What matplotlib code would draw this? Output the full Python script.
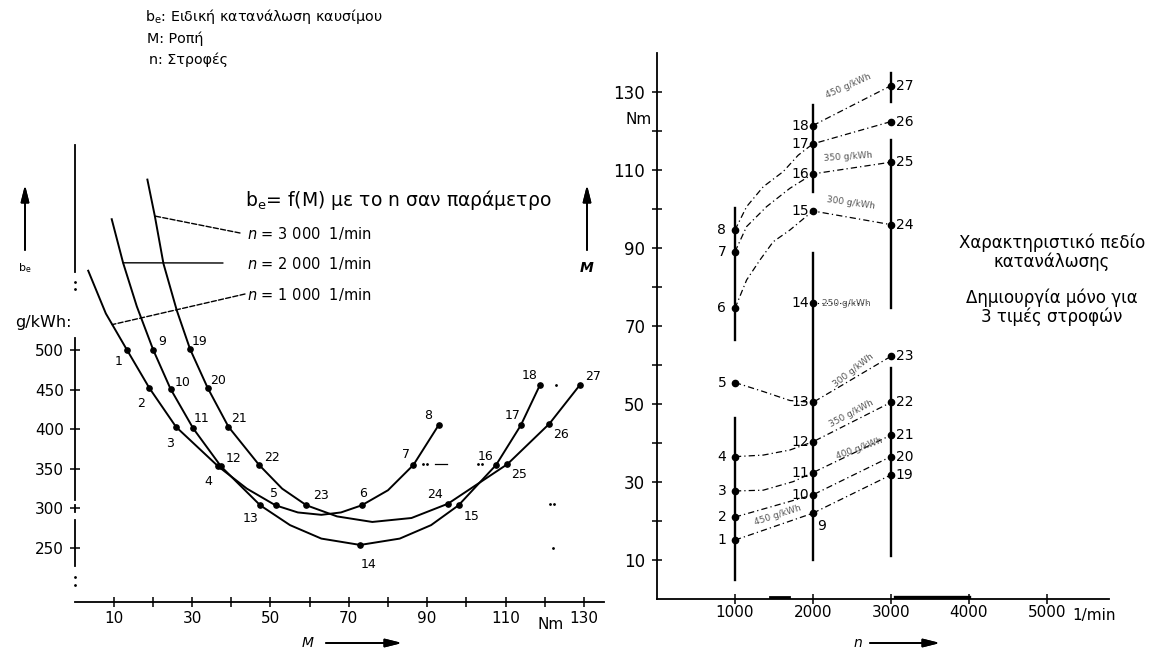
import matplotlib
matplotlib.use("Agg")
import matplotlib.pyplot as plt

W, H = 1175, 656
NARROW = ["Liberation Sans Narrow", "DejaVu Sans"]
plt.rcParams["font.family"] = ["DejaVu Sans"]

# ---- left chart: b_e over M, one curve per speed ----
m_1000 = [3.5, 8.0, 13.4, 19.1, 25.9, 36.7, 44.0, 51.3, 57.0, 63.0, 68.0, 73.3, 80.0, 86.5, 92.9]
b_1000 = [600, 546, 500, 452, 403, 353, 325, 304, 295, 292, 295, 304, 323, 355, 405]
m_2000 = [9.5, 12.4, 15.9, 20.1, 24.5, 30.3, 37.4, 47.4, 55.0, 63.0, 72.9, 83.0, 91.0, 98.0, 107.6, 113.9, 118.8]
b_2000 = [665, 610, 555, 500, 451, 401, 353, 304, 279, 262, 254, 262, 279, 304, 355, 405, 456]
m_3000 = [18.6, 20.5, 22.7, 26.1, 29.5, 34.0, 39.3, 47.1, 53.0, 59.2, 67.0, 76.0, 86.0, 95.3, 110.5, 121.2, 129.0]
b_3000 = [715, 669, 609, 550, 501, 452, 403, 355, 325, 304, 290, 283, 288, 306, 356, 407, 456]

# measuring points 1..27 as drawn on the left chart
pt_no = list(range(1, 28))
pt_m = [13.4, 19.1, 25.9, 36.7, 51.3, 73.3, 86.5, 92.9,
        20.1, 24.5, 30.3, 37.4, 47.4, 72.9, 98.0, 107.6, 113.9, 118.8,
        29.5, 34.0, 39.3, 47.1, 59.2, 95.3, 110.5, 121.2, 129.0]
pt_b = [500, 452, 403, 353, 304, 304, 355, 405,
        500, 451, 401, 353, 304, 254, 304, 355, 405, 456,
        501, 452, 403, 355, 304, 306, 356, 407, 456]
# label offsets (pixels, right / down) of the point numbers
pt_off = [(-8, 12), (-8, 15), (-6, 17), (-10, 15), (-2, -12), (1, -12), (-7, -10), (-10, -10),
          (9, -8), (12, -6), (8, -10), (12, -8), (-10, 13), (8, 20), (13, 11), (-11, -8), (-8, -10), (-10, -9),
          (9, -8), (10, -8), (11, -8), (13, -7), (15, -10), (-13, -9), (12, 10), (12, 11), (13, -8)]

leg_text = ["$n$ = 3 000  1/min", "$n$ = 2 000  1/min", "$n$ = 1 000  1/min"]
leg_m = [20.5, 12.4, 9.6]
leg_b = [669, 610, 532]

# ---- right chart: consumption map, M over n ----
speeds = [1000, 2000, 3000]
rm_1000 = [15.1, 21.0, 27.7, 36.5, 55.5, 74.5, 89.0, 94.6]                   # points 1-8
rm_2000 = [22.0, 26.7, 32.4, 40.3, 50.4, 75.8, 99.5, 109.0, 116.7, 121.4]    # points 9-18
rm_3000 = [31.8, 36.5, 42.0, 50.4, 62.2, 96.0, 112.0, 122.4, 131.6]          # points 19-27

iso_b = [500, 450, 400, 350, 300, 300, 350, 400, 450]
iso_pts = [[1, 9, 19], [2, 10, 20], [3, 11, 21], [4, 12, 22], [5, 13, 23],
           [6, 15, 24], [7, 16, 25], [8, 17, 26], [18, 27]]
# extra readings on the bent stretch between 1000 and 2000 1/min
bend_n = {3: [1363, 1748], 4: [1363, 1705], 5: [1363, 1705],
          6: [1150, 1320, 1491, 1705], 7: [1150, 1406, 1705], 8: [1150, 1363, 1620, 1812]}
bend_m = {3: [27.9, 30.1], 4: [36.9, 38.2], 5: [53.2, 50.9],
          6: [81.8, 86.9, 91.6, 94.6], 7: [95.5, 100.6, 105.3], 8: [100.6, 105.7, 109.6, 113.8]}

iso_lbl = ["450 g/kWh", "350 g/kWh", "300 g/kWh", "250 g/kWh", "300 g/kWh", "350 g/kWh", "400 g/kWh", "450 g/kWh"]
iso_lbl_n = [2450, 2450, 2480, 2430, 2520, 2500, 2600, 1550]
iso_lbl_m = [131.5, 113.5, 101.5, 75.8, 58.5, 47.5, 38.5, 21.5]
iso_lbl_rot = [24, 4, -8, 0, 38, 28, 20, 18]

# vertical measuring lines (drawn with gaps like the original)
vseg = {1000: [(5, 46.5), (66.5, 100.3)],
        2000: [(10, 88.7), (104.4, 126.7)],
        3000: [(11, 59.2), (74.6, 117.7), (127.5, 135)]}

fig = plt.figure(figsize=(W / 100, H / 100), dpi=100)


def rect(x0, y_top, x1, y_bot):
    return [x0 / W, 1 - y_bot / H, (x1 - x0) / W, (y_bot - y_top) / H]


def fpx(x, y):
    return (x, H - y)


# ================= left chart =================
ax1 = fig.add_axes(rect(74.5, 136, 603.5, 602))
ax1.set_xlim(0, 135)
ax1.set_ylim(182, 770)
for s in ["top", "right", "left"]:
    ax1.spines[s].set_visible(False)
ax1.spines["bottom"].set_linewidth(1.3)

for mm, bb in [(m_1000, b_1000), (m_2000, b_2000), (m_3000, b_3000)]:
    ax1.plot(mm, bb, color="black", lw=1.4, solid_joinstyle="round")
ax1.plot(pt_m, pt_b, "o", color="black", ms=3.8, zorder=3)
for no, mm, bb, off in zip(pt_no, pt_m, pt_b, pt_off):
    ax1.annotate(str(no), (mm, bb), xytext=(off[0], -off[1]), textcoords="offset pixels",
                 ha="center", va="center", fontsize=9, family=NARROW)

# y axis drawn in pieces
for b0, b1 in [(598, 759), (311, 515), (296, 305), (228, 285)]:
    ax1.plot([0, 0], [b0, b1], color="black", lw=1.3, clip_on=False)
ax1.plot([0, 0, 0, 0], [586, 577, 213, 204], ".", color="black", ms=2, clip_on=False)

ax1.set_yticks([250, 300, 350, 400, 450, 500])
ax1.set_yticklabels(["250", "300", "350", "400", "450", "500"], family=NARROW, fontsize=11)
ax1.set_xticks(list(range(10, 131, 10)))
ax1.set_xticklabels(["10", "", "30", "", "50", "", "70", "", "90", "", "110", "", "130"],
                    family=NARROW, fontsize=11)
ax1.tick_params(direction="inout", length=7, width=1.1, pad=3)
ax1.tick_params(axis="y", pad=4)
ax1.text(121.5, -0.033, "Nm", transform=ax1.get_xaxis_transform(), ha="center", va="top",
         family=NARROW, fontsize=11)
ax1.text(-0.005, 535, "g/kWh:", transform=ax1.get_yaxis_transform(), ha="right", va="center",
         family=NARROW, fontsize=11.5)

# scan leftovers
ax1.plot([92, 95], [356, 356], color="black", lw=0.9)
ax1.plot([89, 90, 103, 104], [356, 356, 356, 356], ".", color="black", ms=2)
ax1.plot([121.3, 122.3, 122.0, 123.0], [306, 306, 250, 456], ".", color="black", ms=2)

# legend leaders
for txt, mm, bb, ty, tx, ls in zip(leg_text, leg_m, leg_b, [233, 263, 294], [240, 223, 245],
                                   ["--", "-", "--"]):
    ax1.annotate("", (mm, bb), xytext=fpx(tx, ty), textcoords="figure pixels",
                 arrowprops=dict(arrowstyle="-", linestyle=ls, lw=1.0, color="black",
                                 shrinkA=0, shrinkB=0))
    fig.text(247 / W, 1 - ty / H, txt, ha="left", va="center", fontsize=10.5, family=NARROW)

fig.text(245 / W, 1 - 200 / H, r"b$_\mathregular{e}$= f(M) με το n σαν παράμετρο",
         ha="left", va="center", fontsize=13.5)

# axis arrows
arrow = dict(arrowstyle="-|>,head_length=1.0,head_width=0.25", lw=1.3, color="black",
             shrinkA=0, shrinkB=0)
fig.add_artist(plt.annotate("", fpx(25, 185), xytext=fpx(25, 250), xycoords="figure pixels",
                            textcoords="figure pixels", arrowprops=arrow))
fig.text(25 / W, 1 - 268 / H, r"b$_\mathregular{e}$", ha="center", va="center", fontsize=8)
fig.add_artist(plt.annotate("", fpx(587, 185), xytext=fpx(587, 250), xycoords="figure pixels",
                            textcoords="figure pixels", arrowprops=arrow))
fig.text(587 / W, 1 - 268 / H, "M", ha="center", va="center", fontsize=10,
         style="italic", weight="bold")
fig.add_artist(plt.annotate("", fpx(402, 643), xytext=fpx(326, 643), xycoords="figure pixels",
                            textcoords="figure pixels", arrowprops=arrow))
fig.text(308 / W, 1 - 643 / H, "M", ha="center", va="center", fontsize=10, style="italic")

# header text
fig.text(145 / W, 1 - 17 / H, r"b$_\mathregular{e}$: Ειδική κατανάλωση καυσίμου", fontsize=10.3,
         ha="left", va="center")
fig.text(147 / W, 1 - 39 / H, "M: Ροπή", fontsize=10.3, ha="left", va="center")
fig.text(149 / W, 1 - 60 / H, "n: Στροφές", fontsize=10.3, ha="left", va="center")

# ================= right chart =================
ax2 = fig.add_axes(rect(657, 53, 1109, 599))
ax2.set_xlim(0, 5800)
ax2.set_ylim(0, 140)
for s in ["top", "right"]:
    ax2.spines[s].set_visible(False)
for s in ["left", "bottom"]:
    ax2.spines[s].set_linewidth(1.3)

for n, segs in vseg.items():
    for m0, m1 in segs:
        ax2.plot([n, n], [m0, m1], color="black", lw=1.7)

pos = {}
for n, ms in zip(speeds, [rm_1000, rm_2000, rm_3000]):
    for m in ms:
        pos[len(pos) + 1] = (n, m)

for b, pts in zip(iso_b, iso_pts):
    xs = [pos[pts[0]][0]] + bend_n.get(pts[0], []) + [pos[p][0] for p in pts[1:]]
    ys = [pos[pts[0]][1]] + bend_m.get(pts[0], []) + [pos[p][1] for p in pts[1:]]
    ax2.plot(xs, ys, color="black", lw=0.9, ls=(0, (5, 2.5, 1, 2.5)))
ax2.plot([pos[14][0], 2700], [pos[14][1], pos[14][1]], color="black", lw=0.8, ls=(0, (1, 3)))

for txt, n, m, r in zip(iso_lbl, iso_lbl_n, iso_lbl_m, iso_lbl_rot):
    ax2.text(n, m, txt, rotation=r, ha="center", va="center", fontsize=6.5, color="#555555",
             rotation_mode="anchor", family=NARROW)

ax2.plot([p[0] for p in pos.values()], [p[1] for p in pos.values()], "o", color="black", ms=4.5,
         zorder=3)
for no, (n, m) in pos.items():
    if n == 3000:
        dx, dy = 14, 0
    elif no == 9:
        dx, dy = 9, -13
    else:
        dx, dy = -13, 0
    ax2.annotate(str(no), (n, m), xytext=(dx, dy), textcoords="offset pixels", ha="center",
                 va="center", fontsize=10, family=NARROW)

ax2.set_yticks(list(range(10, 131, 10)))
ax2.set_yticklabels(["10", "", "30", "", "50", "", "70", "", "90", "", "110", "", "130"],
                    family=NARROW, fontsize=12)
ax2.set_xticks([1000, 2000, 3000, 4000, 5000])
ax2.set_xticklabels(["1000", "2000", "3000", "4000", "5000"], family=NARROW, fontsize=11)
ax2.tick_params(direction="inout", length=7, width=1.1, pad=5)
ax2.tick_params(axis="x", pad=1)
ax2.text(-0.012, 123, "Nm", transform=ax2.get_yaxis_transform(), ha="right", va="center",
         family=NARROW, fontsize=11)
ax2.text(5330, -0.017, "1/min", transform=ax2.get_xaxis_transform(), ha="left", va="top",
         family=NARROW, fontsize=11)
ax2.plot([3050, 4000], [0.5, 0.5], color="black", lw=2.4)
ax2.plot([1450, 1700], [0.4, 0.4], color="black", lw=2.0)

fig.add_artist(plt.annotate("", fpx(940, 643), xytext=fpx(870, 643), xycoords="figure pixels",
                            textcoords="figure pixels", arrowprops=arrow))
fig.text(858 / W, 1 - 643 / H, "n", ha="center", va="center", fontsize=10, style="italic")

for txt, y in [("Χαρακτηριστικό πεδίο", 243), ("κατανάλωσης", 262),
               ("Δημιουργία μόνο για", 298), ("3 τιμές στροφών", 317)]:
    fig.text(1052 / W, 1 - y / H, txt, ha="center", va="center", fontsize=12)

fig.savefig("out.png", dpi=100)
